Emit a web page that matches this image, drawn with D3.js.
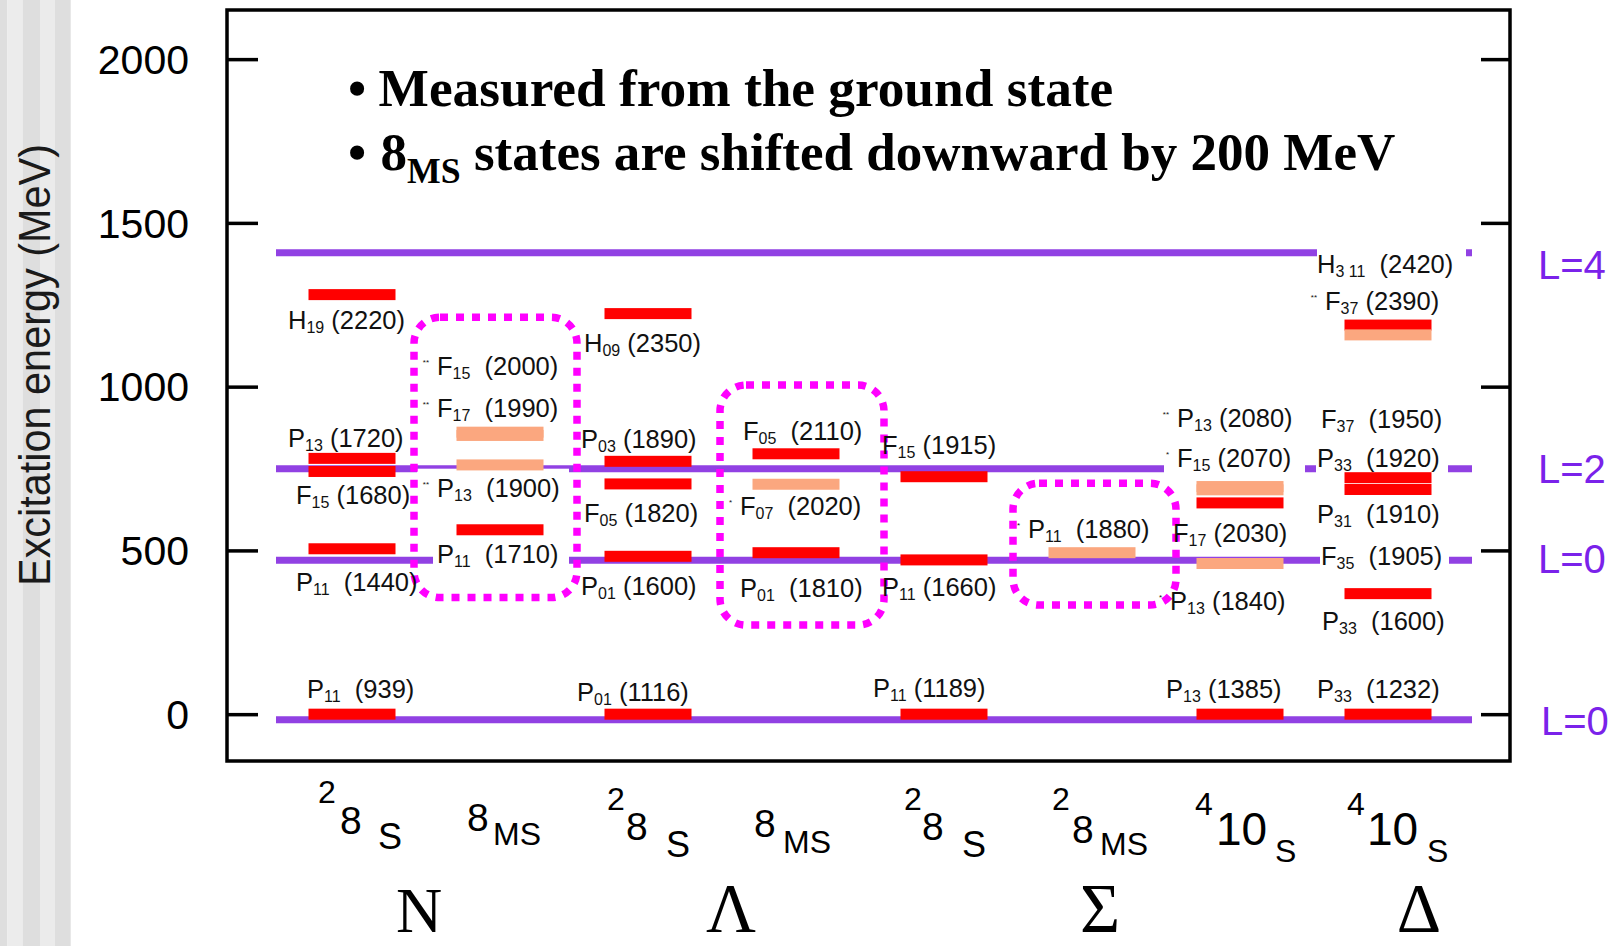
<!DOCTYPE html>
<html>
<head>
<meta charset="utf-8">
<script src="https://cdn.jsdelivr.net/npm/d3@7"></script>
<style>
  body { margin: 0; background: #fff; }
  svg { display: block; }
  text { white-space: pre; }
</style>
</head>
<body>
<div class="chart"></div>
<script>
// columns of the level scheme
const columns = ["N 2_8S", "N 8MS", "Λ 2_8S", "Λ 8MS", "Σ 2_8S", "Σ 8MS", "Σ* 4_10S", "Δ 4_10S"];
const yTicks = [0, 500, 1000, 1500, 2000];

// measured states, excitation energy in MeV (8MS ones shifted by -200)
const barColumn = [0, 0, 0, 0, 0, 1, 1, 1, 1, 2, 2, 2, 2, 2, 3, 3, 3, 4, 4, 4, 5, 6, 6, 6, 6, 6, 7, 7, 7, 7, 7, 7];
const barEnergy = [1281, 781, 741, 505, 0, 861, 851, 761, 563, 1223, 772, 703, 482, 0, 795, 702, 493, 725, 471, 0, 493, 695, 685, 645, 460, 0, 1188, 1158, 722, 686, 368, 0];
const barSure = [1, 1, 1, 1, 1, 0, 0, 0, 1, 1, 1, 1, 1, 1, 1, 0, 1, 1, 1, 1, 0, 0, 0, 1, 0, 1, 1, 0, 1, 1, 1, 1];

// state labels
const labelColumn = [0, 0, 0, 0, 0, 1, 1, 1, 1, 2, 2, 2, 2, 2, 3, 3, 3, 4, 4, 4, 5, 6, 6, 6, 6, 6, 7, 7, 7, 7, 7, 7, 7, 7];
const labelName = ["H", "P", "F", "P", "P", "F", "F", "P", "P", "H", "P", "F", "P", "P", "F", "F", "P", "F", "P", "P", "P", "P", "F", "F", "P", "P", "H", "F", "F", "P", "P", "F", "P", "P"];
const labelSub = ["19", "13", "15", "11", "11", "15", "17", "13", "11", "09", "03", "05", "01", "01", "05", "07", "01", "15", "11", "11", "11", "13", "15", "17", "13", "13", "3 11", "37", "37", "33", "31", "35", "33", "33"];
const labelMass = [2220, 1720, 1680, 1440, 939, 2000, 1990, 1900, 1710, 2350, 1890, 1820, 1600, 1116, 2110, 2020, 1810, 1915, 1660, 1189, 1880, 2080, 2070, 2030, 1840, 1385, 2420, 2390, 1950, 1920, 1910, 1905, 1600, 1232];
const labelStars = ["", "", "", "", "", "**", "**", "**", "", "", "", "", "", "", "", "*", "", "", "", "", "*", "**", "*", "", "*", "", "", "**", "", "", "", "", "", ""];

// oscillator levels
const levelEnergy = [-17, 470, 749, 1409];
const levelName = ["L=0", "L=0", "L=2", "L=4"];

// dotted boxes around the 8MS columns (MeV range)
const boxColumn = [1, 3, 5];
const boxTop = [1212, 1005, 705];
const boxBottom = [356, 272, 333];

// column captions
const colSup = ["2", "", "2", "", "2", "2", "4", "4"];
const colMain = ["8", "8", "8", "8", "8", "8", "10", "10"];
const colSub = ["S", "MS", "S", "MS", "S", "MS", "S", "S"];
const groupName = ["N", "Λ", "Σ", "Δ"];
const groupColumn = [0, 2, 5, 7];

// ---- layout (pixels) ----
const W = 1613, H = 946;
const plot = { left: 227, right: 1510, top: 10, bottom: 761 };
const labelDx = [-64, -64, -56, -56, -45, -63, -63, -63, -63, -64, -67, -64, -67, -71, -53, -56, -56, -62, -62, -71, -64, -63, -63, -67, -70, -74, -71, -63, -67, -71, -71, -67, -66, -71];
const labelAt = [1176, 815, 642, 377, 49, 1036, 908, 664, 461, 1105, 812, 586, 364, 40, 837, 608, 359, 794, 361, 52, 537, 878, 754, 527, 318, 49, 1348, 1234, 873, 756, 583, 456, 257, 49];
const labelWide = [0, 0, 0, 1, 1, 1, 1, 1, 1, 0, 0, 0, 0, 0, 1, 1, 1, 0, 0, 0, 1, 0, 0, 0, 0, 0, 1, 0, 1, 1, 1, 1, 1, 1];
// white boxes behind some labels: [dx, dy, w, h] relative to label start/baseline
const labelMask = { 7: [-20, -28, 152, 36], 8: [-4, -18, 136, 26], 22: [-13, -18, 141, 26], 26: [0, -27, 149, 34], 29: [-1, -18, 132, 26], 31: [-1, -17, 129, 24] };
const levelLabelDy = [15, 13, 14, 26];
const boxDx0 = [-86, -76, -79], boxDx1 = [77, 88, 84];
const colSupDx = [-34, 0, -41, 0, -40, -40, -45, -41], colSupY = [803, 0, 810, 0, 810, 810, 815, 815];
const colMainDx = [-12, -33, -22, -42, -22, -20, -24, -21], colMainY = [834, 831, 840, 837, 840, 843, 845, 845];
const colSubDx = [26, -7, 18, -13, 18, 8, 35, 39], colSubY = [849, 845, 857, 853, 857, 855, 862, 862];
const groupDx = [67, 83, 8, 31];

const RED = "#ff0000", SALMON = "#fba77f", LINE = "#9141e3", LTEXT = "#7a22ea", MAGENTA = "#ff00ff";
const SANS = "Liberation Sans, Arial, sans-serif", SERIF = "Liberation Serif, Times New Roman, serif";

const svg = d3.select(".chart").append("svg").attr("width", W).attr("height", H);

// left strip background
const stripes = [[0, 7.3, "#dedede"], [7.3, 22.7, "#ececec"], [22.7, 40, "#dedede"], [40, 55, "#ebebeb"], [55, 70.7, "#dedede"]];
svg.selectAll("rect.stripe").data(stripes).join("rect")
  .attr("x", d => d[0]).attr("width", d => d[1] - d[0])
  .attr("y", 0).attr("height", H).attr("fill", d => d[2]);

const x = d3.scalePoint().domain(d3.range(columns.length)).range([352, 1388]);
const y = d3.scaleLinear().domain([-143, 2150]).range([plot.bottom, plot.top]);

// level lines
svg.selectAll("line.level").data(levelEnergy).join("line")
  .attr("x1", x(0) - 76).attr("x2", x(7) + 84)
  .attr("y1", d => y(d)).attr("y2", d => y(d))
  .attr("stroke", LINE).attr("stroke-width", 7);

const labels = labelName.map((n, i) => ({
  i, col: labelColumn[i], name: n, sub: labelSub[i], mass: labelMass[i], stars: labelStars[i],
  dx: labelDx[i], at: labelAt[i], wide: labelWide[i]
}));

// white masks behind labels
svg.selectAll("rect.mask").data(labels.filter(d => labelMask[d.i])).join("rect")
  .attr("x", d => x(d.col) + d.dx + labelMask[d.i][0])
  .attr("y", d => y(d.at) + labelMask[d.i][1])
  .attr("width", d => labelMask[d.i][2]).attr("height", d => labelMask[d.i][3])
  .attr("fill", "#fff");

// bars
const bars = barEnergy.map((e, i) => ({ col: barColumn[i], e, sure: barSure[i] }));
svg.selectAll("rect.bar").data(bars).join("rect")
  .attr("x", d => x(d.col) - 43.5).attr("width", 87)
  .attr("y", d => y(d.e) - 5.5).attr("height", 11)
  .attr("fill", d => d.sure ? RED : SALMON);

// dotted boxes
svg.selectAll("rect.box").data(boxColumn).join("rect")
  .attr("x", (d, i) => x(d) + boxDx0[i]).attr("width", (d, i) => boxDx1[i] - boxDx0[i])
  .attr("y", (d, i) => y(boxTop[i])).attr("height", (d, i) => y(boxBottom[i]) - y(boxTop[i]))
  .attr("rx", 26).attr("fill", "none")
  .attr("stroke", MAGENTA).attr("stroke-width", 7.5).attr("stroke-dasharray", "8 8");

// state labels
const lab = svg.selectAll("text.state").data(labels).join("text")
  .attr("x", d => x(d.col) + d.dx).attr("y", d => y(d.at))
  .attr("font-family", SANS).attr("font-size", 25.5).attr("fill", "#111");
lab.append("tspan").text(d => d.name);
lab.append("tspan").attr("font-size", 16).attr("dy", 4).text(d => d.sub);
lab.append("tspan").attr("dy", -4).text(d => (d.wide ? "  (" : " (") + d.mass + ")");

svg.selectAll("text.stars").data(labels.filter(d => d.stars)).join("text")
  .attr("x", d => x(d.col) + d.dx - 8).attr("y", d => y(d.at) - 10)
  .attr("text-anchor", "end").attr("font-family", SANS)
  .attr("font-size", 8).attr("fill", "#111").text(d => d.stars);

// level names on the right
svg.selectAll("text.lname").data(levelEnergy).join("text")
  .attr("x", (d, i) => i === 0 ? 1541 : 1538)
  .attr("y", (d, i) => y(d) + levelLabelDy[i])
  .attr("font-family", SANS).attr("font-size", 40)
  .attr("fill", LTEXT).text((d, i) => levelName[i]);

// frame and ticks
svg.append("rect")
  .attr("x", plot.left).attr("y", plot.top)
  .attr("width", plot.right - plot.left).attr("height", plot.bottom - plot.top)
  .attr("fill", "none").attr("stroke", "#000").attr("stroke-width", 3.5);

svg.append("g").attr("transform", "translate(" + plot.left + ",0)")
  .call(d3.axisRight(y).tickValues(yTicks).tickSize(31).tickFormat(""))
  .call(g => g.select(".domain").remove())
  .call(g => g.selectAll("line").attr("stroke-width", 3.5));
svg.append("g").attr("transform", "translate(" + plot.right + ",0)")
  .call(d3.axisLeft(y).tickValues(yTicks).tickSize(29).tickFormat(""))
  .call(g => g.select(".domain").remove())
  .call(g => g.selectAll("line").attr("stroke-width", 3.5));

svg.selectAll("text.ytick").data(yTicks).join("text")
  .attr("x", 189).attr("y", d => y(d)).attr("dy", "0.36em")
  .attr("text-anchor", "end").attr("font-family", SANS)
  .attr("font-size", 41).attr("fill", "#000").text(d => d);

svg.append("text")
  .attr("transform", "translate(50,365) rotate(-90)")
  .attr("text-anchor", "middle").attr("font-family", SANS)
  .attr("font-size", 44).attr("fill", "#1a1a1a")
  .attr("textLength", 442).attr("lengthAdjust", "spacingAndGlyphs")
  .text("Excitation energy (MeV)");

// column captions
const cap = svg.append("g").attr("font-family", SANS).attr("fill", "#000");
cap.selectAll("text.sup").data(columns).join("text")
  .attr("x", (d, i) => x(i) + colSupDx[i]).attr("y", (d, i) => colSupY[i])
  .attr("font-size", 32).text((d, i) => colSup[i]);
cap.selectAll("text.main").data(columns).join("text")
  .attr("x", (d, i) => x(i) + colMainDx[i]).attr("y", (d, i) => colMainY[i])
  .attr("font-size", (d, i) => colMain[i].length > 1 ? 46 : 39).text((d, i) => colMain[i]);
cap.selectAll("text.sub").data(columns).join("text")
  .attr("x", (d, i) => x(i) + colSubDx[i]).attr("y", (d, i) => colSubY[i])
  .attr("font-size", (d, i) => (colSub[i] === "S" && i < 6) ? 36 : 32).text((d, i) => colSub[i]);

svg.selectAll("text.group").data(groupName).join("text")
  .attr("x", (d, i) => x(groupColumn[i]) + groupDx[i]).attr("y", 932)
  .attr("text-anchor", "middle").attr("font-family", SERIF)
  .attr("font-size", (d, i) => i === 0 ? 64 : 69).attr("fill", "#000").text(d => d);

// notes
const notes = svg.append("g").attr("font-family", SERIF)
  .attr("font-weight", "bold").attr("fill", "#000").attr("font-size", 52);
notes.append("text").attr("x", 357).attr("y", 106).attr("text-anchor", "middle").text("•");
notes.append("text").attr("x", 357).attr("y", 170).attr("text-anchor", "middle").text("•");
const n1 = notes.append("text").attr("x", 378.6).attr("y", 106).text("Measured from the ground state");
const n2 = notes.append("text").attr("x", 380.6).attr("y", 170);
n2.append("tspan").text("8");
n2.append("tspan").attr("font-size", 35).attr("dy", 13).text("MS");
n2.append("tspan").attr("dy", -13).text(" states are shifted downward by 200 MeV");

function fitWidth(sel, x0, target) {
  const w = sel.node().getBBox().width;
  sel.attr("transform", "translate(" + x0 + ",0) scale(" + (target / w) + ",1) translate(" + (-x0) + ",0)");
}
fitWidth(n1, 378.6, 735);
fitWidth(n2, 380.6, 1015);
</script>
</body>
</html>
